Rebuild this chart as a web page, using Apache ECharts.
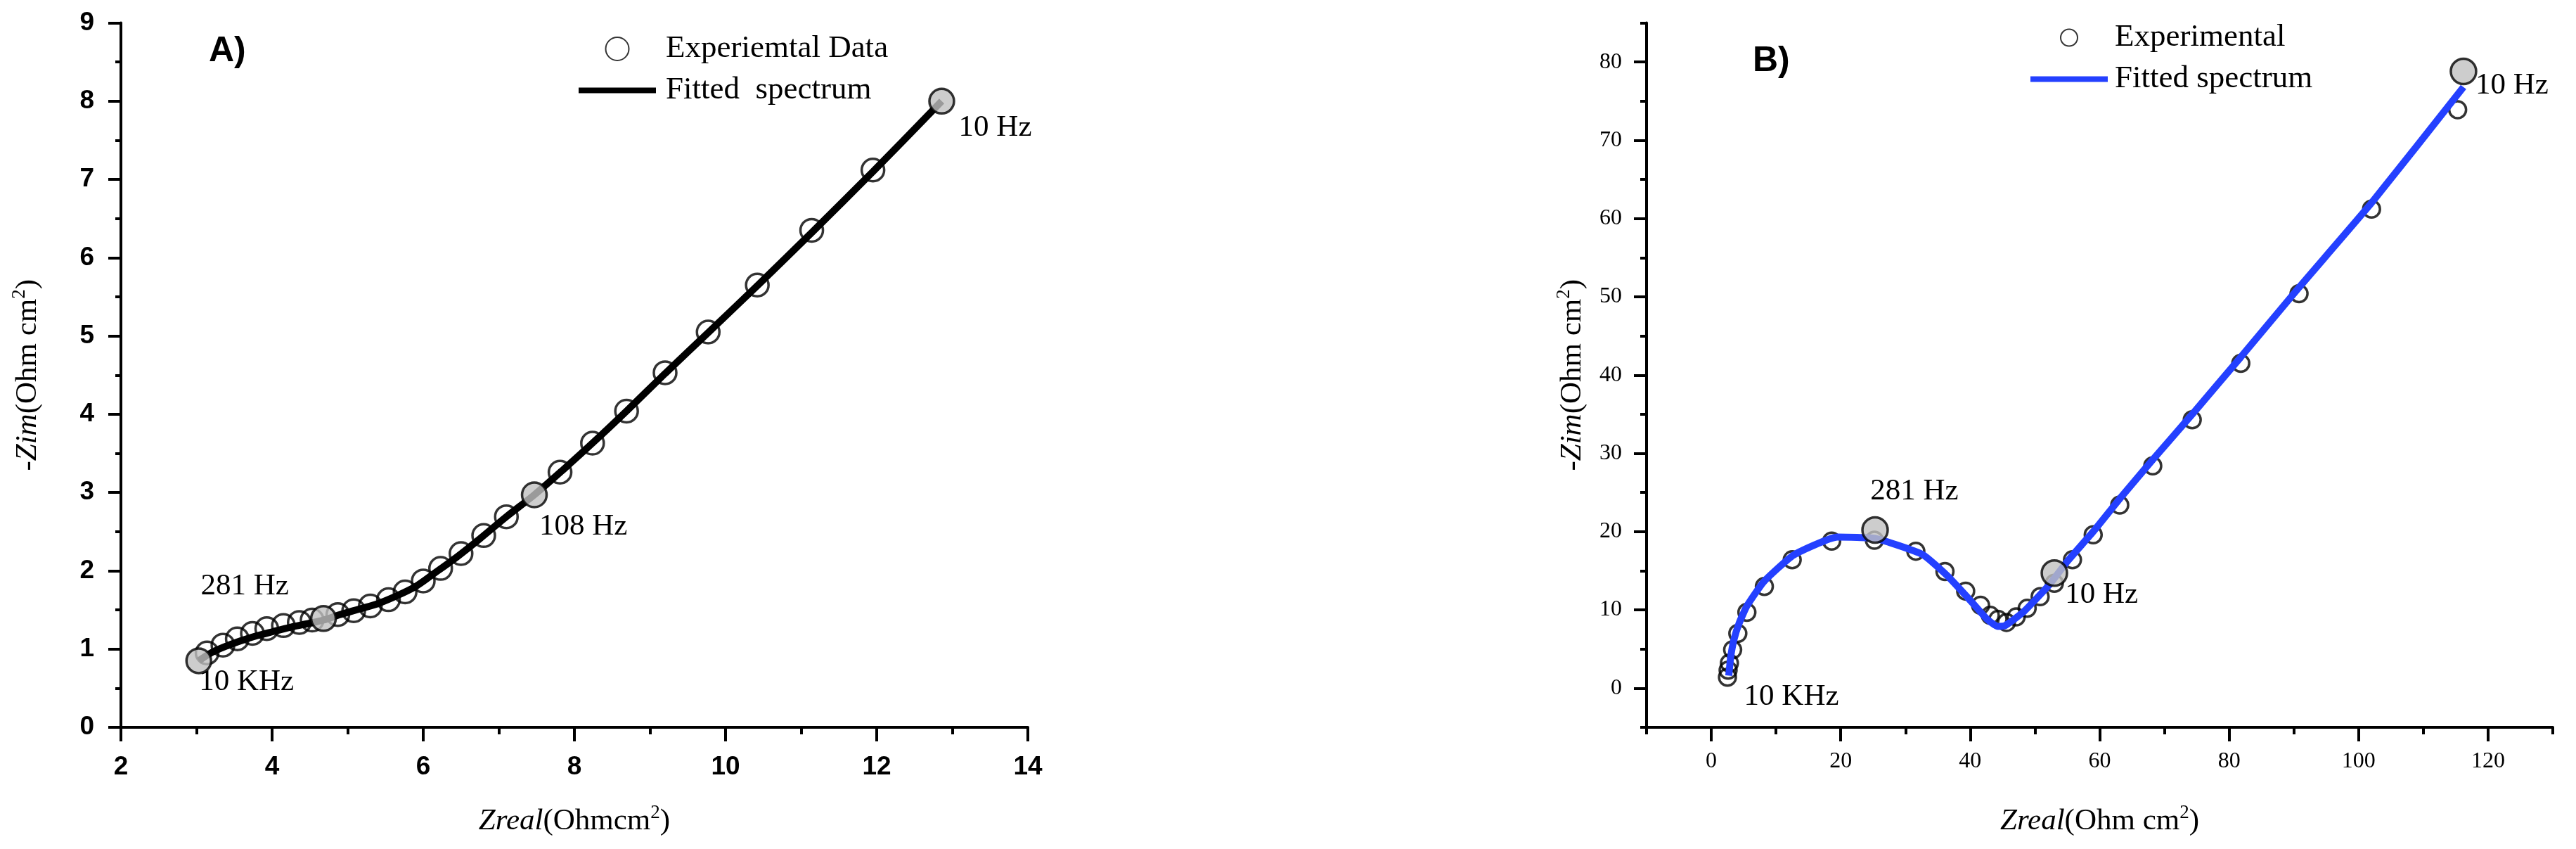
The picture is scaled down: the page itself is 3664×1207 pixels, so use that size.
<!DOCTYPE html>
<html>
<head>
<meta charset="utf-8">
<title>Nyquist plots A and B</title>
<script src="https://cdn.jsdelivr.net/npm/echarts@6/dist/echarts.min.js"></script>
<style>
  html, body { margin: 0; padding: 0; background: #fff; }
  #chart { width: 3664px; height: 1207px; }
</style>
</head>
<body>
<div id="chart"></div>
<script>
// ---- panel A ----
// experimental points (open circles)
var zreA = [3.14, 3.35, 3.54, 3.74, 3.93, 4.15, 4.36, 4.53, 4.87, 5.08, 5.30, 5.54, 5.76,
  6.00, 6.23, 6.50, 6.80, 7.10, 7.81, 8.24, 8.69, 9.20, 9.77, 10.42, 11.14, 11.95]
var zimA = [0.95, 1.05, 1.13, 1.20, 1.26, 1.30, 1.34, 1.37, 1.44, 1.49, 1.55, 1.63, 1.73,
  1.87, 2.03, 2.22, 2.45, 2.69, 3.26, 3.63, 4.04, 4.53, 5.05, 5.65, 6.35, 7.12]
// highlighted frequencies (grey dots)
var markZreA = [3.03, 4.68, 7.47, 12.86]
var markZimA = [0.85, 1.39, 2.97, 8.00]
// fitted spectrum
var fitZreA = [3.03, 3.21, 3.40, 3.60, 3.80, 4.00, 4.25, 4.50, 4.68, 4.90, 5.15, 5.40, 5.65,
  5.90, 6.15, 6.45, 6.75, 7.10, 7.47, 7.85, 8.25, 8.70, 9.20, 9.80, 10.45, 11.15, 11.95, 12.86]
var fitZimA = [0.85, 0.96, 1.04, 1.11, 1.17, 1.22, 1.28, 1.33, 1.37, 1.44, 1.51, 1.58, 1.68,
  1.80, 1.97, 2.18, 2.41, 2.69, 2.97, 3.29, 3.64, 4.05, 4.52, 5.07, 5.67, 6.33, 7.10, 8.00]
// frequency notes
var noteTextA = ['10 KHz', '281 Hz', '108 Hz', '10 Hz']
var noteZreA = [3.03, 3.05, 7.53, 13.08]
var noteZimA = [0.575, 1.80, 2.56, 7.66]

// ---- panel B ----
var zreB = [2.5, 2.6, 2.8, 3.3, 4.1, 5.5, 8.2, 12.5, 18.6, 25.2, 31.6, 36.1, 39.3, 41.6, 43.1,
  44.3, 45.6, 47.1, 48.8, 50.8, 53.0, 55.8, 59.0, 63.1, 68.2, 74.3, 81.8, 90.8, 102.0, 115.3]
var zimB = [1.4, 2.3, 3.2, 4.9, 7.0, 9.7, 13.0, 16.4, 18.8, 18.9, 17.5, 14.9, 12.4, 10.6, 9.3,
  8.8, 8.4, 9.1, 10.2, 11.7, 13.4, 16.4, 19.6, 23.4, 28.4, 34.3, 41.5, 50.4, 61.2, 73.9]
var markZreB = [25.3, 53.0, 116.2]
var markZimB = [20.2, 14.7, 78.8]
var fitZreB = [2.7, 3.0, 3.5, 4.3, 5.5, 8.1, 12.7, 19.5, 25.5, 32.6, 36.3, 39.6, 42.5, 44.2,
  45.4, 48.3, 52.1, 55.0, 59.0, 63.1, 68.2, 74.3, 81.8, 90.8, 102.0, 116.2]
var fitZimB = [1.6, 4.0, 6.2, 8.3, 10.5, 13.6, 17.0, 19.3, 19.1, 17.1, 14.5, 11.6, 8.9, 7.9,
  8.0, 9.8, 13.1, 16.2, 20.0, 24.2, 29.2, 35.0, 42.3, 51.2, 62.0, 76.8]
var noteTextB = ['10 KHz', '281 Hz', '10 Hz', '10 Hz']
var noteZreB = [5.0, 24.5, 54.6, 118.0]
var noteZimB = [-1.1, 25.1, 11.9, 77.0]
var labelsXB = [0, 20, 40, 60, 80, 100, 120]
var labelsYB = [0, 10, 20, 30, 40, 50, 60, 70, 80]

function pairs(xs, ys) {
  return xs.map(function (x, i) { return [x, ys[i]] })
}
function notes(texts, xs, ys) {
  return texts.map(function (t, i) { return { name: t, value: [xs[i], ys[i]] } })
}

var serif = 'Liberation Serif'
var black = '#000'
var blue = '#2440ff'
var grey = '#c0c0c0'
// flat bar used as the legend icon of the fitted lines
var lineIcon = 'path://M0,0L110,0L110,8L0,8Z'

var tickLine = { color: black, width: 4 }
var nameRich = {
  i: { fontFamily: serif, fontSize: 43, fontStyle: 'italic', color: black },
  n: { fontFamily: serif, fontSize: 43, color: black },
  s: { fontFamily: serif, fontSize: 27, color: black, padding: [0, 0, 24, 0] }
}
var nameStyle = { fontFamily: serif, fontSize: 43, color: black, rich: nameRich }

function noteSeries(name, xi, data) {
  return {
    name: name, type: 'scatter', xAxisIndex: xi, yAxisIndex: xi === 0 ? 0 : 1,
    data: data, symbolSize: 1, itemStyle: { color: 'rgba(0,0,0,0)' },
    label: { show: true, position: 'right', distance: 0, formatter: '{b}', opacity: 1,
      fontFamily: serif, fontSize: 43, color: black },
    silent: true, z: 6
  }
}

// hidden helper axis that only draws the short in-between ticks
function minorAxis(grid, min, max, step, len, pos) {
  return {
    gridIndex: grid, type: 'value', min: min, max: max, interval: step, position: pos,
    axisLine: { show: false, onZero: false },
    axisTick: { length: len, lineStyle: tickLine },
    axisLabel: { show: false },
    splitLine: { show: false }
  }
}

var chart = echarts.init(document.getElementById('chart'))
chart.setOption({
  animation: false,
  backgroundColor: '#fff',
  title: [
    { text: 'A)', left: 292, top: 43, textStyle: { fontFamily: 'Liberation Sans', fontWeight: 'bold', fontSize: 50, color: black } },
    { text: 'B)', left: 2488, top: 57, textStyle: { fontFamily: 'Liberation Sans', fontWeight: 'bold', fontSize: 50, color: black } }
  ],
  legend: [
    {
      orient: 'vertical', left: 818, top: 42, itemWidth: 110, itemHeight: 33, itemGap: 14,
      selectedMode: false,
      data: ['Experiemtal Data', { name: 'Fitted  spectrum', icon: lineIcon }],
      textStyle: { fontFamily: serif, fontSize: 45, color: black, padding: [0, 0, 0, 9] }
    },
    {
      orient: 'vertical', left: 2883, top: 26, itemWidth: 110, itemHeight: 24, itemGap: 14,
      selectedMode: false,
      data: ['Experimental', { name: 'Fitted spectrum', icon: lineIcon }],
      textStyle: { fontFamily: serif, fontSize: 45, color: black, padding: [0, 0, 0, 5] }
    }
  ],
  grid: [
    { left: 172, top: 32.5, width: 1290, height: 1001.5 },
    { left: 2342, top: 32.5, width: 1289, height: 1001.5 }
  ],
  xAxis: [
    {
      gridIndex: 0, type: 'value', min: 2, max: 14, interval: 2,
      axisLine: { onZero: false, lineStyle: tickLine },
      axisTick: { length: 20, lineStyle: tickLine },
      minorTick: { show: true, splitNumber: 2, length: 10, lineStyle: tickLine },
      splitLine: { show: false },
      axisLabel: { margin: 38, color: black, fontFamily: 'Liberation Sans', fontWeight: 'bold', fontSize: 37 },
      name: '{i|Zreal}{n|(Ohmcm}{s|2}{n|)}', nameLocation: 'middle', nameGap: 108, nameTextStyle: nameStyle
    },
    {
      gridIndex: 1, type: 'value', min: -10, max: 130, position: 'bottom',
      axisLine: { onZero: false, lineStyle: tickLine },
      axisTick: { customValues: labelsXB, length: 20, lineStyle: tickLine },
      splitLine: { show: false },
      axisLabel: { customValues: labelsXB, margin: 33, color: black, fontFamily: serif, fontSize: 32 },
      name: '{i|Zreal}{n|(Ohm cm}{s|2}{n|)}', nameLocation: 'middle', nameGap: 108, nameTextStyle: nameStyle
    },
    minorAxis(1, -10, 130, 10, 10, 'bottom')
  ],
  yAxis: [
    {
      gridIndex: 0, type: 'value', min: 0, max: 9, interval: 1,
      axisLine: { onZero: false, lineStyle: tickLine },
      axisTick: { length: 18, lineStyle: tickLine },
      minorTick: { show: true, splitNumber: 2, length: 8, lineStyle: tickLine },
      splitLine: { show: false },
      axisLabel: { margin: 38, color: black, fontFamily: 'Liberation Sans', fontWeight: 'bold', fontSize: 37 },
      name: '-{i|Zim}{n|(Ohm cm}{s|2}{n|)}', nameLocation: 'middle', nameGap: 107, nameTextStyle: nameStyle
    },
    {
      gridIndex: 1, type: 'value', min: -5, max: 85, position: 'left',
      axisLine: { onZero: false, lineStyle: tickLine },
      axisTick: { customValues: labelsYB, length: 18, lineStyle: tickLine },
      splitLine: { show: false },
      axisLabel: { customValues: labelsYB, margin: 35, color: black, fontFamily: serif, fontSize: 32 },
      name: '-{i|Zim}{n|(Ohm cm}{s|2}{n|)}', nameLocation: 'middle', nameGap: 80, nameTextStyle: nameStyle
    },
    minorAxis(1, -5, 85, 5, 9, 'left')
  ],
  series: [
    {
      name: 'Fitted  spectrum', type: 'line', xAxisIndex: 0, yAxisIndex: 0,
      data: pairs(fitZreA, fitZimA), symbol: 'none', smooth: 0.3,
      lineStyle: { color: black, width: 10 }, itemStyle: { color: black }, z: 2
    },
    {
      name: 'Experiemtal Data', type: 'scatter', xAxisIndex: 0, yAxisIndex: 0,
      data: pairs(zreA, zimA), symbol: 'circle', symbolSize: 32,
      itemStyle: { color: 'rgba(255,255,255,0)', borderColor: black, borderWidth: 3.5 }, z: 3
    },
    {
      name: 'freqA', type: 'scatter', xAxisIndex: 0, yAxisIndex: 0,
      data: pairs(markZreA, markZimA), symbol: 'circle', symbolSize: 35,
      itemStyle: { color: grey, borderColor: black, borderWidth: 3.5 }, z: 4
    },
    noteSeries('notesA', 0, notes(noteTextA, noteZreA, noteZimA)),
    {
      name: 'Experimental', type: 'scatter', xAxisIndex: 1, yAxisIndex: 1,
      data: pairs(zreB, zimB), symbol: 'circle', symbolSize: 24,
      itemStyle: { color: 'rgba(255,255,255,0)', borderColor: black, borderWidth: 3.5 }, z: 2
    },
    {
      name: 'Fitted spectrum', type: 'line', xAxisIndex: 1, yAxisIndex: 1,
      data: pairs(fitZreB, fitZimB), symbol: 'none', smooth: 0.15,
      lineStyle: { color: blue, width: 10 }, itemStyle: { color: blue }, z: 3
    },
    {
      name: 'freqB', type: 'scatter', xAxisIndex: 1, yAxisIndex: 1,
      data: pairs(markZreB, markZimB), symbol: 'circle', symbolSize: 36,
      itemStyle: { color: grey, borderColor: black, borderWidth: 3.5 }, z: 4
    },
    noteSeries('notesB', 1, notes(noteTextB, noteZreB, noteZimB))
  ]
})
</script>
</body>
</html>
